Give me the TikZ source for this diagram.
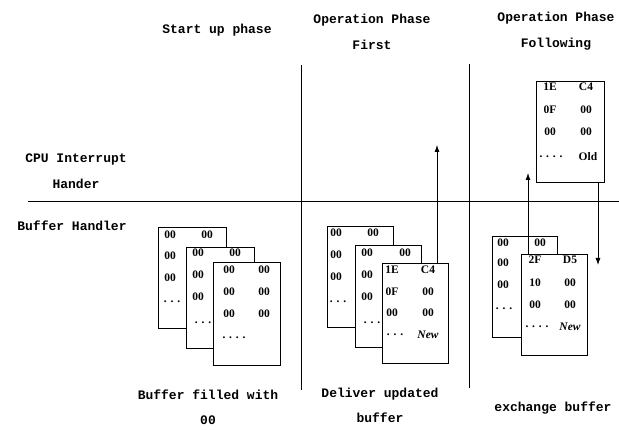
\documentclass[tikz,border=0pt]{standalone}
\usepackage{fontspec}
\setmainfont{Liberation Serif}
\newfontfamily\lblfont{Liberation Mono}
\usetikzlibrary{arrows.meta}
\begin{document}
\begin{tikzpicture}[x=1pt,y=-1pt,
  lbl/.style={font=\lblfont\bfseries\fontsize{13}{15}\selectfont, inner sep=0pt, align=center},
  buf/.style={draw, line width=1pt, fill=white, inner sep=0pt, anchor=north west},
  cell/.style={font=\bfseries\fontsize{11.5}{13}\selectfont, inner sep=0pt},
  sep/.style={line width=0.9pt},
  arr/.style={line width=0.8pt, -{Latex[length=7pt,width=5pt]}}]
\useasboundingbox (0,0) rectangle (619,430);
% separators
\coordinate (v1t) at (301,65); \coordinate (v1b) at (301,390);
\coordinate (v2t) at (469,64); \coordinate (v2b) at (469,388);
\coordinate (hl) at (28,201); \coordinate (hr) at (619,201);
\draw[sep] (v1t) -- (v1b);
\draw[sep] (v2t) -- (v2b);
\draw[sep] (hl) -- (hr);
% headers
\node[lbl] (h1) at (217,30) {Start up phase};
\node[lbl] (h2) at (372,32) {Operation Phase\\[11pt]First};
\node[lbl] (h3) at (556,31) {Operation Phase\\[11pt]Following};
\node[lbl] (l1) at (76,171) {CPU Interrupt\\[11pt]Hander};
\node[lbl] (l2) at (72,226) {Buffer Handler};
\node[lbl] (b1) at (208,407) {Buffer filled with\\[10pt]00};
\node[lbl] (b2) at (380,405) {Deliver updated\\[10pt]buffer};
\node[lbl] (b3) at (553,408) {exchange buffer};
% start-up boxes
\node[buf, minimum width=68pt, minimum height=101pt] (s1) at (158,227) {};
\foreach \t/\x/\y in {00/170/235, 00/207/235, 00/170/256, 00/170/278, {. . .}/172/302}
  \node[cell] at (\x,\y) {\t};
\node[buf, minimum width=68pt, minimum height=101pt] (s2) at (186,247) {};
\foreach \t/\x/\y in {00/198/253, 00/235/253, 00/198/275, 00/198/297, {. . .}/203/323}
  \node[cell] at (\x,\y) {\t};
\node[buf, minimum width=67pt, minimum height=103pt] (s3) at (213,262) {};
\foreach \t/\x/\y in {00/229/270, 00/264/270, 00/229/292, 00/264/292, 00/229/314, 00/264/314, {. . . .}/234/338}
  \node[cell] at (\x,\y) {\t};
% operation first boxes
\node[buf, minimum width=66pt, minimum height=101pt] (f1) at (327,226) {};
\foreach \t/\x/\y in {00/336/233, 00/373/233, 00/336/255, 00/336/277, {. . .}/338/302}
  \node[cell] at (\x,\y) {\t};
\node[buf, minimum width=66pt, minimum height=102pt] (f2) at (355,245) {};
\foreach \t/\x/\y in {00/367/253, 00/405/253, 00/367/275, 00/367/297, {. . .}/372/323}
  \node[cell] at (\x,\y) {\t};
\node[buf, minimum width=66pt, minimum height=100pt] (f3) at (382,263) {};
\foreach \t/\x/\y in {1E/392/270, C4/428/270, 0F/392/292, 00/428/292, 00/392/313, 00/428/313, {. . .}/395/335, \itshape New/428/335}
  \node[cell] at (\x,\y) {\t};
\coordinate (fa) at (437,145);
\draw[arr] (f3.north -| fa) -- (fa);
% operation following boxes
\node[buf, minimum width=68pt, minimum height=101pt] (o1) at (536,81) {};
\foreach \t/\x/\y in {1E/550/87, C4/586/87, 0F/550/110, 00/586/110, 00/550/132, 00/586/132, {. . . .}/551/157, Old/588/157}
  \node[cell] at (\x,\y) {\t};
\node[buf, minimum width=65pt, minimum height=101pt] (o2) at (492,236) {};
\foreach \t/\x/\y in {00/503/243, 00/540/243, 00/503/263, 00/503/285, {. . .}/504/309}
  \node[cell] at (\x,\y) {\t};
\node[buf, minimum width=66pt, minimum height=101pt] (o3) at (521,254) {};
\foreach \t/\x/\y in {2F/535/260, D5/570/260, 10/535/283, 00/570/283, 00/535/305, 00/570/305, {. . . .}/537/327, \itshape New/570/327}
  \node[cell] at (\x,\y) {\t};
\coordinate (ua) at (528,173);
\draw[arr] (o3.north -| ua) -- (ua);
\coordinate (da) at (598,265);
\draw[arr] (o1.south -| da) -- (da);
\end{tikzpicture}
\end{document}
